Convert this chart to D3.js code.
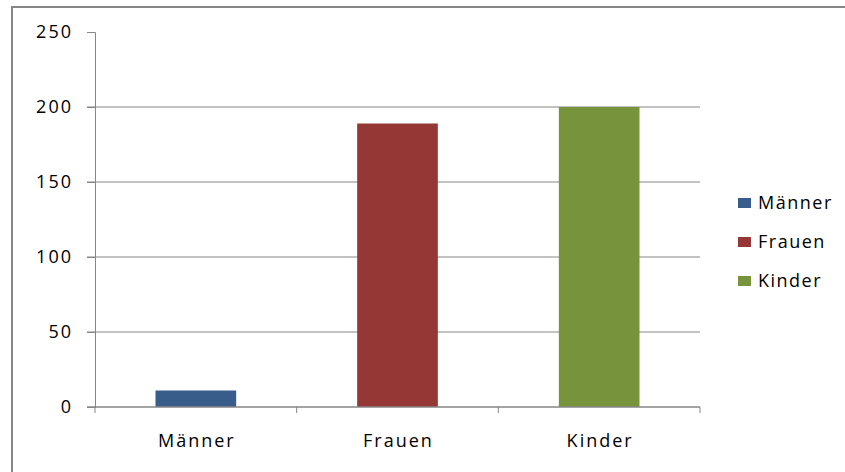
<!DOCTYPE html>
<html>
<head>
<meta charset="utf-8">
<script src="https://cdn.jsdelivr.net/npm/d3@7"></script>
<style>
  body { margin: 0; background: #fff; }
  svg { display: block; font-family: "Open Sans", "Liberation Sans", sans-serif; }
</style>
</head>
<body>
<div id="chart"></div>
<script>
// Data
const categories = ["Männer", "Frauen", "Kinder"];
const values = [11, 189, 200];
const colors = ["#385D8A", "#953735", "#77933C"];
const yTicks = [0, 50, 100, 150, 200, 250];

const width = 845, height = 472;
const svg = d3.select("#chart").append("svg")
    .attr("width", width)
    .attr("height", height);

// outer chart frame (cut off on right and bottom)
svg.append("rect")
    .attr("x", 12).attr("y", 7)
    .attr("width", 900).attr("height", 600)
    .attr("fill", "none")
    .attr("stroke", "#868686")
    .attr("stroke-width", 2);

const plot = {left: 95, right: 700, top: 32, bottom: 407};

const x = d3.scaleBand()
    .domain(categories)
    .range([plot.left, plot.right])
    .paddingInner(0.6)
    .paddingOuter(0.3);

const y = d3.scaleLinear().domain([0, 250]).range([plot.bottom, plot.top]);

// gridlines
svg.append("g")
    .selectAll("line")
    .data(yTicks.filter(d => d > 0 && d < 250))
    .join("line")
    .attr("x1", plot.left - 8).attr("x2", plot.right)
    .attr("y1", d => y(d)).attr("y2", d => y(d))
    .attr("stroke", "#868686").attr("stroke-width", 1);

// y axis
const yAxis = svg.append("g")
    .attr("transform", `translate(${plot.left},0)`)
    .call(d3.axisLeft(y).tickValues(yTicks).tickSize(8).tickPadding(14));
yAxis.select(".domain").attr("stroke", "#868686");
yAxis.selectAll(".tick line").attr("stroke", "#868686");
yAxis.selectAll(".tick text").attr("font-size", 18).attr("fill", "#000")
    .attr("letter-spacing", "2px")
    .attr("font-family", "Open Sans, sans-serif");

// bars
svg.append("g")
    .selectAll("rect")
    .data(categories)
    .join("rect")
    .attr("x", d => x(d))
    .attr("width", x.bandwidth())
    .attr("y", (d, i) => y(values[i]))
    .attr("height", (d, i) => y(0) - y(values[i]))
    .attr("fill", (d, i) => colors[i]);

// x axis with category separator ticks
const xTickPos = d3.range(categories.length + 1).map(i => plot.left + i * (plot.right - plot.left) / categories.length);
svg.append("line")
    .attr("x1", plot.left - 8).attr("x2", plot.right)
    .attr("y1", y(0)).attr("y2", y(0))
    .attr("stroke", "#868686").attr("stroke-width", 1.5);
svg.append("g")
    .selectAll("line")
    .data(xTickPos)
    .join("line")
    .attr("x1", d => d).attr("x2", d => d)
    .attr("y1", y(0)).attr("y2", y(0) + 6)
    .attr("stroke", "#868686");

svg.append("g")
    .selectAll("text")
    .data(categories)
    .join("text")
    .attr("x", d => x(d) + x.bandwidth() / 2 + 1)
    .attr("y", 447)
    .attr("text-anchor", "middle")
    .attr("font-size", 18)
    .attr("letter-spacing", "2px")
    .attr("fill", "#000")
    .text(d => d);

// legend
const legend = svg.append("g")
    .selectAll("g")
    .data(categories)
    .join("g")
    .attr("transform", (d, i) => `translate(738,${203 + i * 39})`);
legend.append("rect")
    .attr("x", 0).attr("y", -5)
    .attr("width", 13).attr("height", 10)
    .attr("fill", (d, i) => colors[i]);
legend.append("text")
    .attr("x", 20).attr("y", 0)
    .attr("dy", "0.35em")
    .attr("font-size", 18)
    .attr("letter-spacing", "1.5px")
    .attr("fill", "#000")
    .text(d => d);
</script>
</body>
</html>
